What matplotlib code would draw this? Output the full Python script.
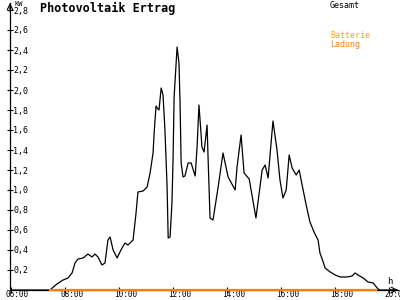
import matplotlib.pyplot as plt
from matplotlib.transforms import ScaledTranslation

# Gesamt output in kW, times in decimal hours
times = [6.0, 7.44, 7.70, 7.93, 8.11, 8.26, 8.37, 8.48, 8.67, 8.85, 9.00, 9.11, 9.22,
         9.37, 9.48, 9.59, 9.67, 9.78, 9.93, 10.07, 10.22, 10.33, 10.52, 10.63, 10.70,
         10.89, 11.04, 11.15, 11.26, 11.30, 11.37, 11.41, 11.48, 11.56, 11.63, 11.70,
         11.78, 11.82, 11.89, 11.96, 12.00, 12.04, 12.11, 12.15, 12.22, 12.26, 12.30,
         12.37, 12.44, 12.56, 12.67, 12.82, 12.89, 12.96, 13.04, 13.07, 13.15, 13.26,
         13.30, 13.37, 13.48, 13.67, 13.85, 14.04, 14.30, 14.37, 14.52, 14.63, 14.82,
         15.07, 15.30, 15.41, 15.52, 15.70, 15.85, 15.96, 16.07, 16.19, 16.30, 16.41,
         16.56, 16.67, 16.78, 16.93, 17.07, 17.22, 17.37, 17.44, 17.56, 17.63, 17.82,
         18.00, 18.19, 18.44, 18.63, 18.74, 18.85, 19.04, 19.22, 19.41, 19.59, 19.67, 20.3]
gesamt = [0.0, 0.0, 0.06, 0.10, 0.12, 0.17, 0.27, 0.31, 0.32, 0.36, 0.33, 0.36, 0.33,
          0.25, 0.27, 0.50, 0.53, 0.40, 0.32, 0.40, 0.47, 0.45, 0.50, 0.77, 0.98,
          0.99, 1.03, 1.17, 1.37, 1.57, 1.84, 1.82, 1.80, 2.02, 1.95, 1.60,
          1.03, 0.52, 0.53, 0.87, 1.30, 1.93, 2.25, 2.43, 2.27, 1.87, 1.27,
          1.13, 1.14, 1.27, 1.27, 1.14, 1.43, 1.85, 1.55, 1.43, 1.38, 1.65,
          1.30, 0.72, 0.70, 1.03, 1.37, 1.13, 1.00, 1.23, 1.55, 1.17, 1.11,
          0.72, 1.20, 1.25, 1.12, 1.69, 1.40, 1.10, 0.92, 1.00, 1.35, 1.22,
          1.15, 1.20, 1.05, 0.85, 0.68, 0.58, 0.50, 0.37, 0.28, 0.22, 0.18,
          0.15, 0.13, 0.13, 0.14, 0.17, 0.15, 0.12, 0.08, 0.07, 0.01, 0.0, 0.0]

# Batterie Ladung (zero all day)
ladung_times = [7.44, 19.52]
ladung = [0.0, 0.0]

yticks = [0.2, 0.4, 0.6, 0.8, 1.0, 1.2, 1.4, 1.6, 1.8, 2.0, 2.2, 2.4, 2.6, 2.8]
xticks = [6, 8, 10, 12, 14, 16, 18, 20]
xlabels = ['06:00', '08:00', '10:00', '12:00', '14:00', '16:00', '18:00', '20:00']

plt.rcParams['font.family'] = ['DejaVu Sans Mono']

fig = plt.figure(figsize=(4, 3), dpi=100)
ax = fig.add_axes([10 / 400, 10 / 300, 388 / 400, 287 / 300])

ax.plot(times, gesamt, color='black', lw=0.9, zorder=3)
ax.plot(ladung_times, ladung, color='#ff8000', lw=1.6, zorder=4, clip_on=False)

ax.set_xlim(5.963, 20.33)
ax.set_ylim(0, 2.87)

for s in ['top', 'right']:
    ax.spines[s].set_visible(False)
ax.spines['left'].set_linewidth(0.9)
ax.spines['bottom'].set_linewidth(0.9)

ax.set_yticks(yticks)
ax.set_yticklabels([f'{v:.1f}'.replace('.', ',') for v in yticks])
ax.tick_params(axis='y', direction='inout', length=5, width=0.8, pad=-5, labelsize=6)
for lab in ax.get_yticklabels():
    lab.set_ha('left')

ax.set_xticks(xticks)
ax.set_xticklabels(xlabels)
ax.tick_params(axis='x', direction='inout', length=4, width=0.8, pad=-2, labelsize=5.5)
off = ScaledTranslation(-0.05, 0, fig.dpi_scale_trans)
for lab in ax.get_xticklabels():
    lab.set_ha('left')
    lab.set_transform(lab.get_transform() + off)

# axis arrows
ax.annotate('', xy=(1.0, 0), xytext=(0.98, 0), xycoords='axes fraction',
            arrowprops=dict(arrowstyle='->', lw=0.8, color='black',
                            shrinkA=0, shrinkB=0))
ax.annotate('', xy=(0, 1.0), xytext=(0, 0.97), xycoords='axes fraction',
            arrowprops=dict(arrowstyle='->', lw=0.8, color='black',
                            shrinkA=0, shrinkB=0))

fig.text(14 / 400, 1 - 4 / 300, 'KW', fontsize=5, va='center', ha='left')
fig.text(387 / 400, 1 - 281 / 300, 'h', fontsize=6.5, va='center', ha='left')
fig.text(40 / 400, 1 - 8 / 300, 'Photovoltaik Ertrag', fontsize=8.5,
         fontweight='bold', va='center', ha='left')
fig.text(330 / 400, 1 - 5 / 300, 'Gesamt', fontsize=6, va='center', ha='left')
fig.text(330 / 400, 1 - 36 / 300, 'Batterie', fontsize=6, va='center', ha='left',
         color='#ffa800')
fig.text(330 / 400, 1 - 44 / 300, 'Ladung', fontsize=6, va='center', ha='left',
         color='#ff8000')

fig.savefig('out.png', dpi=100)
